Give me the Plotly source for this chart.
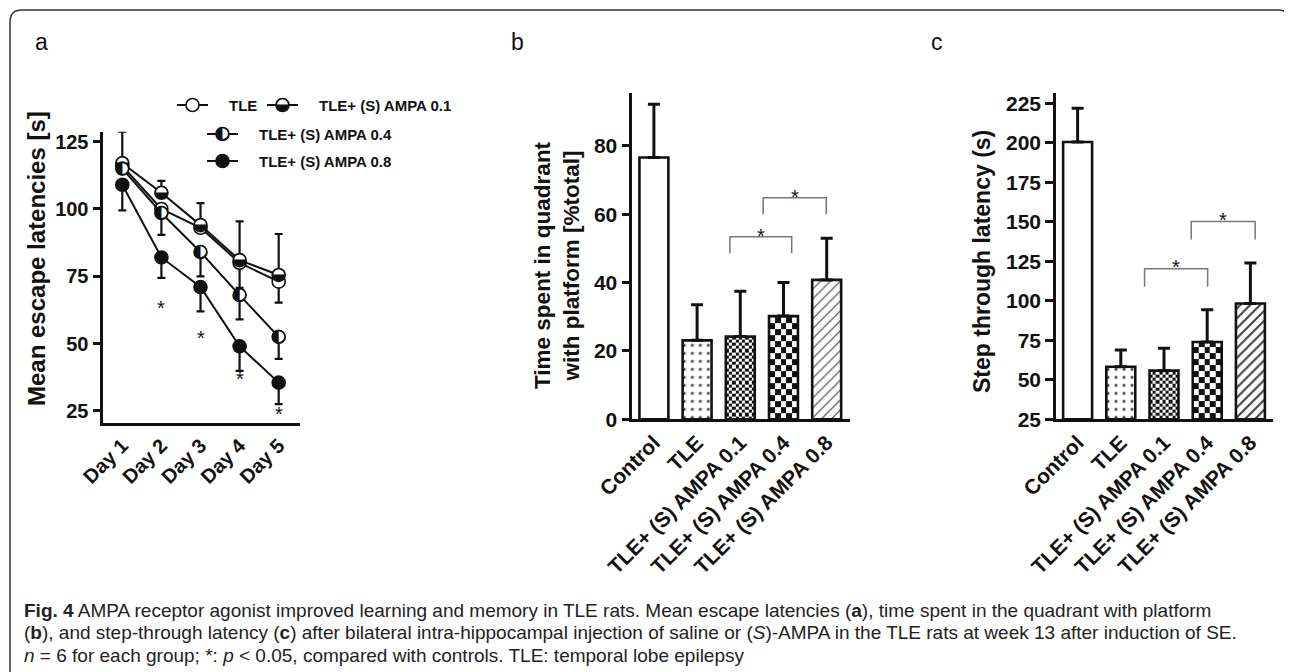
import plotly.graph_objects as go

# The page body adds an 8 px margin; the figure is sized and offset so that
# reference pixel coordinates land where they belong in the 1292x672 window.
OFF = 8
FW, FH = 1292 - OFF, 672 - OFF

# ---------------- data ----------------
days = ["Day 1", "Day 2", "Day 3", "Day 4", "Day 5"]
day_idx = [1, 2, 3, 4, 5]

tle = [116, 100, 93, 80, 73]
tle_up = [0, 0, 0, 0, 0]
tle_dn = [0, 0, 0, 9.3, 7.8]

ampa01 = [117, 106, 94, 81, 75.5]
ampa01_up = [11.7, 4.4, 8.2, 14.4, 15.2]
ampa01_dn = [0, 0, 0, 0, 0]

ampa04 = [115, 98.5, 84, 68, 52.5]
ampa04_up = [0, 0, 0, 0, 0]
ampa04_dn = [0, 8.1, 9.0, 9.0, 8.2]

ampa08 = [109, 82, 71, 49, 35.5]
ampa08_up = [0, 0, 0, 0, 0]
ampa08_dn = [9.5, 7.6, 9.0, 9.1, 8.0]

star_days = [2, 3, 4, 5]
star_vals = [65.5, 54.3, 38.9, 26.0]

groups = ["Control", "TLE", "TLE+ (S) AMPA 0.1", "TLE+ (S) AMPA 0.4", "TLE+ (S) AMPA 0.8"]
group_idx = [0, 1, 2, 3, 4]

time_quadrant = [76.6, 23.1, 24.2, 30.2, 40.8]
time_quadrant_err = [15.6, 10.4, 13.3, 9.8, 12.2]

step_latency = [200.5, 58.3, 55.8, 73.9, 98.3]
step_latency_err = [21.3, 10.6, 14.1, 20.5, 25.6]

# significance brackets: (from group, to group, level, star level)
b_brackets = [(2, 3, 53.4, 55.5), (3, 4, 64.8, 66.8)]
c_brackets = [(2, 3, 120.2, 125.0), (3, 4, 150.1, 155.0)]

# ---------------- style helpers ----------------
FONT = "Liberation Sans, Arial, sans-serif"
BLACK = "#111111"
STAR_SHIFT = -6


def px_x(p):
    return (p - OFF) / FW


def px_y(p):
    return 1 - (p - OFF) / FH


fig = go.Figure()

# ---------------- panel a: line chart ----------------
series = [
    ("TLE", tle, tle_up, tle_dn, "white", None),
    ("TLE+ (S) AMPA 0.1", ampa01, ampa01_up, ampa01_dn, "white", "\u25D2"),
    ("TLE+ (S) AMPA 0.4", ampa04, ampa04_up, ampa04_dn, "white", "\u25D0"),
    ("TLE+ (S) AMPA 0.8", ampa08, ampa08_up, ampa08_dn, BLACK, None),
]
GLYPH_FONT = dict(family="DejaVu Sans", size=17, color=BLACK)
for name, vals, up, dn, mcol, glyph in series:
    mode = "lines+markers+text" if glyph else "lines+markers"
    fig.add_trace(go.Scatter(
        x=day_idx, y=vals, name=name, mode=mode,
        text=[glyph] * len(vals) if glyph else None,
        textposition="middle center", textfont=GLYPH_FONT,
        line=dict(color=BLACK, width=2),
        marker=dict(symbol="circle", size=13, color=mcol,
                    line=dict(color=BLACK, width=1.6)),
        error_y=dict(type="data", symmetric=False, array=up, arrayminus=dn,
                     color=BLACK, thickness=2.2, width=4),
        xaxis="x", yaxis="y", showlegend=False,
    ))

for d, v in zip(star_days, star_vals):
    fig.add_annotation(x=d, y=v, xref="x", yref="y", text="*", showarrow=False,
                       xanchor="center", yanchor="middle", yshift=STAR_SHIFT,
                       font=dict(family=FONT, size=20, color=BLACK))

# ---------------- legend of panel a (drawn on a pixel overlay axis) ----------------
legend_slots = [(105, 177), (105, 267), (134, 207), (161, 207)]
LEG_LINE = 31
LEG_TEXT_GAP = 19
for (name, vals, up, dn, mcol, glyph), (ly, lx) in zip(series, legend_slots):
    fig.add_trace(go.Scatter(
        x=[lx, lx + LEG_LINE], y=[ly, ly], mode="lines", line=dict(color=BLACK, width=2),
        xaxis="x4", yaxis="y4", showlegend=False, hoverinfo="skip"))
    fig.add_trace(go.Scatter(
        x=[lx + LEG_LINE / 2], y=[ly], mode="markers+text" if glyph else "markers",
        text=[glyph] if glyph else None, textposition="middle center", textfont=GLYPH_FONT,
        marker=dict(symbol="circle", size=13, color=mcol, line=dict(color=BLACK, width=1.6)),
        xaxis="x4", yaxis="y4", showlegend=False, hoverinfo="skip"))
    fig.add_annotation(x=lx + LEG_LINE + LEG_TEXT_GAP, y=ly, xref="x4", yref="y4",
                       xanchor="left", yanchor="middle", text=f"<b>{name}</b>",
                       showarrow=False, font=dict(family=FONT, size=15, color=BLACK))

# ---------------- panels b and c: bar charts ----------------
BAR_W = 0.67
fill_cols = ["white", "white", "rgba(0,0,0,0)", "rgba(0,0,0,0)", "white"]
pat_shapes = ["", ".", "", "", "/"]


def checker(i, v, ybase, ncols, cell_h, xa, ya):
    half = BAR_W / 2
    xe = [i - half + k * (2 * half / ncols) for k in range(ncols + 1)]
    ye = []
    y = ybase
    while y < v - 1e-9:
        ye.append(y)
        y += cell_h
    ye.append(v)
    z = [[(r + c) % 2 for c in range(ncols)] for r in range(len(ye) - 1)]
    return go.Heatmap(x=xe, y=ye, z=z, zmin=0, zmax=1, showscale=False,
                      colorscale=[[0, "white"], [1, BLACK]], hoverinfo="skip",
                      xaxis=xa, yaxis=ya)


def bar_panel(vals, errs, xa, ya, ybase, units_per_px, hatch_col, hatch_sol):
    fig.add_trace(checker(2, vals[2], ybase, 9, 3.2 * units_per_px, xa, ya))
    fig.add_trace(checker(3, vals[3], ybase, 5, 6.0 * units_per_px, xa, ya))
    fig.add_trace(go.Bar(
        x=group_idx, y=[v - ybase for v in vals], base=ybase, width=BAR_W,
        marker=dict(color=fill_cols, line=dict(color=BLACK, width=2.6),
                    pattern=dict(shape=pat_shapes,
                                 fgcolor=[BLACK, BLACK, BLACK, BLACK, hatch_col],
                                 fgopacity=1, bgcolor="white", size=[8, 8, 8, 8, 7],
                                 solidity=[0.2, 0.12, 0.2, 0.2, hatch_sol])),
        error_y=dict(type="data", symmetric=False, array=errs,
                     arrayminus=[0] * len(errs), color=BLACK, thickness=3, width=6),
        xaxis=xa, yaxis=ya, showlegend=False,
    ))


b_range = [0, 95.4]
c_range = [25, 231.3]
plot_h = 419.3 - 93.3
bar_panel(time_quadrant, time_quadrant_err, "x2", "y2", 0,
          (b_range[1] - b_range[0]) / plot_h, "#444444", 0.17)
bar_panel(step_latency, step_latency_err, "x3", "y3", 25,
          (c_range[1] - c_range[0]) / plot_h, BLACK, 0.3)

# brackets
b_offsets = [(-0.24, 0.19), (-0.47, -0.01)]
c_offsets = [(-0.45, 0.01), (-0.37, 0.11)]
for brs, offs, xr, yr, drop in [(b_brackets, b_offsets, "x2", "y2", 4.8),
                                (c_brackets, c_offsets, "x3", "y3", 11.3)]:
    for (g0, g1, lev, star), (o0, o1) in zip(brs, offs):
        x0, x1 = g0 + o0, g1 + o1
        fig.add_shape(type="path", xref=xr, yref=yr,
                      path=f"M {x0},{lev - drop} L {x0},{lev} L {x1},{lev} L {x1},{lev - drop}",
                      line=dict(color="#777777", width=1.5))
        fig.add_annotation(x=(x0 + x1) / 2, y=star, xref=xr, yref=yr, text="*",
                           xanchor="center", yanchor="middle", yshift=STAR_SHIFT,
                           showarrow=False, font=dict(family=FONT, size=20, color=BLACK))

# ---------------- axes ----------------
tickfont_a = dict(family=FONT, size=20, color=BLACK)
tickfont_bc = dict(family=FONT, size=21, color=BLACK)
catfont = dict(family=FONT, size=21, color=BLACK)
dayfont = dict(family=FONT, size=20, color=BLACK)
ax_common = dict(showgrid=False, zeroline=False, showline=True, linecolor=BLACK,
                 linewidth=2.6, mirror=False, automargin=False)
yt = dict(ticks="outside", ticklen=8, tickwidth=2.6, tickcolor=BLACK)


def bold(vals):
    return [f"<b>{v}</b>" for v in vals]


fig.update_layout(
    xaxis=dict(domain=[px_x(103.3), px_x(300)], range=[0.514, 5.545], anchor="y",
               tickvals=day_idx, ticktext=bold(days), tickangle=-45,
               ticks="", tickfont=dayfont, **ax_common),
    yaxis=dict(domain=[px_y(423.3), px_y(131.7)], range=[20.4, 128.7], anchor="x",
               tickvals=[25, 50, 75, 100, 125], ticktext=bold([25, 50, 75, 100, 125]),
               tickfont=tickfont_a, **yt, **ax_common),
    xaxis2=dict(domain=[px_x(632.3), px_x(850)], range=[-0.5, 4.54], anchor="y2",
                tickvals=group_idx, ticktext=bold(groups), tickangle=-45,
                ticks="", tickfont=catfont, **ax_common),
    yaxis2=dict(domain=[px_y(419.3), px_y(93.3)], range=b_range, anchor="x2",
                tickvals=[0, 20, 40, 60, 80], ticktext=bold([0, 20, 40, 60, 80]),
                tickfont=tickfont_bc, **yt, **ax_common),
    xaxis3=dict(domain=[px_x(1056), px_x(1273.3)], range=[-0.5, 4.53], anchor="y3",
                tickvals=group_idx, ticktext=bold(groups), tickangle=-45,
                ticks="", tickfont=catfont, **ax_common),
    yaxis3=dict(domain=[px_y(419.3), px_y(93.3)], range=c_range, anchor="x3",
                tickvals=list(range(25, 226, 25)), ticktext=bold(range(25, 226, 25)),
                tickfont=tickfont_bc, **yt, **ax_common),
    # pixel overlay axis (reference-pixel coordinates) for the legend of panel a
    xaxis4=dict(domain=[0, 1], range=[OFF, OFF + FW], visible=False, anchor="y4",
                automargin=False),
    yaxis4=dict(domain=[0, 1], range=[OFF + FH, OFF], visible=False, anchor="x4",
                automargin=False),
)

# ---------------- titles & labels ----------------
def label(xp, yp, text, size, angle=0):
    fig.add_annotation(x=px_x(xp), y=px_y(yp), xref="paper", yref="paper", text=text,
                       textangle=angle, xanchor="center", yanchor="middle", showarrow=False,
                       font=dict(family=FONT, size=size, color=BLACK))


label(36, 259, "<b>Mean escape latencies [s]</b>", 24, -90)
label(557, 265, "<b>Time spent in quadrant<br>with platform [%total]</b>", 22.5, -90)
label(982, 262, "<b>Step through latency (s)</b>", 23, -90)

for letter, xp in [("a", 41), ("b", 517), ("c", 937)]:
    label(xp, 42, letter, 23)

cap_font = dict(family="Liberation Sans, Arial, sans-serif", size=19, color="#222222")
captions = [
    "<b>Fig. 4</b> AMPA receptor agonist improved learning and memory in TLE rats. Mean escape latencies (<b>a</b>), time spent in the quadrant with platform",
    "(<b>b</b>), and step-through latency (<b>c</b>) after bilateral intra-hippocampal injection of saline or (<i>S</i>)-AMPA in the TLE rats at week 13 after induction of SE.",
    "<i>n</i> = 6 for each group; *: <i>p</i> &lt; 0.05, compared with controls. TLE: temporal lobe epilepsy",
]
for k, t in enumerate(captions):
    fig.add_annotation(x=px_x(22), y=px_y(610 + 22.5 * k), xref="paper", yref="paper",
                       xanchor="left", yanchor="middle", text=t, showarrow=False, font=cap_font)

# frame around the figure (rounded top corners, open at the bottom)
path = (f"M {px_x(10)},{px_y(700)} L {px_x(10)},{px_y(22)} "
        f"Q {px_x(10)},{px_y(10)} {px_x(22)},{px_y(10)} "
        f"L {px_x(1278)},{px_y(10)} Q {px_x(1290)},{px_y(10)} {px_x(1290)},{px_y(22)} "
        f"L {px_x(1290)},{px_y(700)}")
fig.add_shape(type="path", xref="paper", yref="paper", path=path,
              line=dict(color="#333333", width=1.5))

fig.update_layout(width=FW, height=FH, margin=dict(l=0, r=0, t=0, b=0, autoexpand=False),
                  paper_bgcolor="white", plot_bgcolor="rgba(0,0,0,0)", bargap=0.33,
                  showlegend=False, font=dict(family=FONT, color=BLACK))

fig.write_html("out.html")
